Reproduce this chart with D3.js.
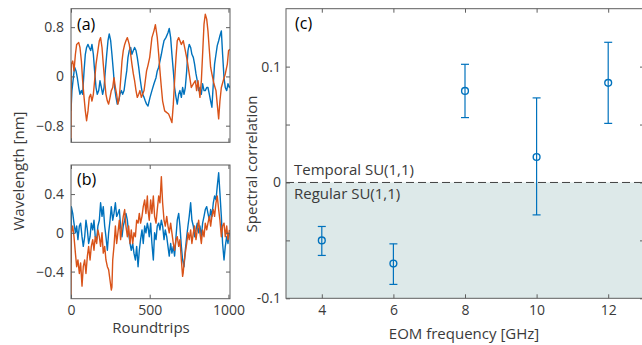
<!DOCTYPE html>
<html>
<head>
<meta charset="utf-8">
<script src="https://cdn.jsdelivr.net/npm/d3@7"></script>
<style>
  body { margin: 0; background: #fff; }
  svg text { font-family: "Open Sans", sans-serif; }
</style>
</head>
<body>
<script>
// panel (a): [roundtrip, wavelength nm]
const blueA = [[0,-0.56],[6,-0.23],[15,-0.02],[23,0.15],[32,0.09],[40,-0.02],[49,-0.18],[57,-0.29],[66,-0.23],[74,-0.29],[83,0.09],[91,0.36],[99,0.47],[108,0.52],[116,0.47],[125,0.42],[133,0.52],[142,0.36],[150,0.09],[159,-0.18],[167,-0.29],[176,-0.23],[184,-0.07],[193,-0.18],[201,-0.29],[210,-0.18],[218,0.09],[227,0.36],[235,0.58],[243,0.69],[252,0.58],[260,0.36],[269,0.09],[277,-0.18],[286,-0.34],[294,-0.45],[303,-0.40],[311,-0.29],[320,-0.23],[328,-0.29],[337,-0.23],[345,-0.07],[354,0.09],[362,0.31],[370,0.42],[379,0.47],[387,0.36],[396,0.42],[404,0.47],[413,0.42],[421,0.31],[430,0.15],[438,-0.02],[447,-0.18],[455,-0.29],[464,-0.34],[472,-0.40],[480,-0.45],[489,-0.48],[502,-0.34],[514,-0.23],[527,-0.12],[540,-0.02],[548,0.09],[557,0.15],[565,0.25],[574,0.36],[582,0.47],[591,0.58],[603,0.63],[616,0.71],[624,0.78],[633,0.63],[641,0.36],[650,0.09],[658,-0.18],[667,-0.34],[675,-0.45],[684,-0.29],[692,-0.23],[701,-0.34],[709,-0.18],[718,-0.29],[726,-0.18],[735,0.09],[743,0.42],[751,0.52],[760,0.47],[768,0.36],[777,0.31],[785,0.20],[794,0.04],[802,-0.07],[811,-0.23],[819,-0.18],[828,-0.29],[836,-0.12],[845,-0.23],[853,-0.23],[862,-0.18],[870,-0.18],[879,-0.29],[887,-0.40],[895,-0.50],[904,-0.12],[912,0.20],[921,0.36],[929,0.50],[938,0.58],[946,0.66],[955,0.74],[963,0.36],[972,-0.02],[980,-0.18],[989,-0.23],[997,-0.12],[1006,-0.18],[1010,-0.15]];
const orangeA = [[0,-1.03],[2,0.20],[11,0.25],[19,0.09],[28,0.36],[36,0.52],[49,0.55],[57,0.47],[66,0.25],[74,-0.07],[83,-0.34],[91,-0.56],[99,-0.72],[108,-0.56],[116,-0.34],[125,-0.29],[133,-0.40],[142,-0.29],[150,-0.07],[159,0.20],[171,0.42],[180,0.58],[188,0.63],[197,0.47],[205,0.20],[214,-0.07],[222,-0.29],[231,-0.40],[239,-0.45],[248,-0.34],[256,-0.23],[265,-0.18],[273,-0.02],[282,-0.18],[290,-0.29],[298,-0.45],[307,-0.34],[315,-0.07],[324,0.25],[332,0.42],[341,0.52],[349,0.58],[358,0.63],[370,0.52],[379,0.36],[387,0.20],[396,0.04],[404,-0.07],[413,-0.23],[421,-0.34],[430,-0.29],[438,-0.23],[447,-0.34],[455,-0.29],[464,-0.23],[472,-0.07],[480,0.09],[489,0.18],[500,0.31],[514,0.63],[527,0.74],[536,0.84],[548,0.63],[557,0.36],[565,0.09],[574,-0.18],[582,-0.40],[595,-0.56],[605,-0.58],[620,-0.61],[633,-0.69],[641,-0.75],[650,-0.45],[658,-0.07],[667,0.31],[675,0.58],[684,0.63],[692,0.58],[701,0.52],[713,0.58],[726,0.42],[739,0.25],[751,0.04],[764,-0.18],[777,-0.12],[790,-0.07],[798,-0.23],[807,-0.07],[819,-0.34],[828,-0.07],[838,0.47],[845,0.85],[853,1.01],[862,0.93],[870,0.74],[879,0.42],[887,0.15],[895,0.04],[908,-0.12],[921,-0.23],[929,-0.45],[938,-0.69],[946,-0.40],[955,-0.18],[967,-0.07],[980,0.04],[993,0.20],[1001,0.42],[1010,0.44]];

// panel (b)
const blueB = [[0,-0.31],[2,0.27],[11,0.20],[19,0.10],[28,0.0],[36,0.07],[44,-0.07],[53,0.07],[61,0.10],[70,-0.04],[78,-0.14],[87,-0.04],[95,0.13],[104,0.03],[112,-0.11],[121,-0.04],[129,0.10],[138,0.03],[146,0.13],[154,-0.04],[163,-0.07],[171,0.07],[180,0.13],[188,0.31],[197,0.17],[205,0.27],[214,0.07],[222,-0.04],[231,-0.18],[239,0.0],[248,0.13],[256,0.27],[265,0.13],[273,0.20],[282,0.31],[290,0.17],[298,0.20],[307,0.24],[315,0.07],[324,-0.04],[332,0.07],[341,0.13],[349,0.20],[358,0.13],[366,0.0],[375,-0.11],[383,-0.18],[392,-0.11],[400,-0.21],[409,-0.28],[417,-0.14],[426,-0.35],[434,-0.18],[442,-0.07],[451,0.03],[459,-0.11],[468,0.07],[476,0.0],[485,0.10],[489,0.07],[497,-0.04],[506,0.10],[514,-0.11],[523,-0.28],[531,0.0],[540,-0.07],[548,0.07],[557,0.10],[565,0.03],[574,0.13],[582,0.07],[591,-0.07],[599,0.03],[608,-0.04],[616,-0.14],[624,-0.24],[633,-0.11],[641,-0.21],[650,-0.14],[658,-0.24],[667,-0.04],[675,0.13],[684,0.20],[692,0.07],[701,-0.14],[709,-0.28],[718,-0.35],[726,-0.18],[735,-0.04],[743,0.07],[751,0.17],[760,0.31],[768,0.13],[777,0.07],[785,-0.04],[794,0.03],[802,0.10],[811,0.0],[819,0.07],[828,-0.04],[836,0.10],[845,0.17],[853,0.24],[862,0.27],[870,0.20],[879,0.13],[887,0.24],[895,0.17],[904,0.31],[912,0.38],[921,0.34],[929,0.48],[938,0.62],[946,0.41],[955,0.17],[963,-0.11],[972,-0.28],[980,-0.14],[989,-0.04],[997,-0.11],[1006,0.0]];
const orangeB = [[0,-0.66],[2,0.0],[11,0.07],[19,-0.04],[28,-0.21],[36,-0.35],[44,-0.28],[53,-0.42],[61,-0.31],[70,-0.55],[78,-0.35],[87,-0.28],[95,-0.42],[104,-0.24],[112,-0.14],[121,-0.28],[129,-0.14],[138,-0.07],[146,-0.18],[154,-0.04],[163,-0.11],[171,0.03],[180,-0.04],[188,-0.14],[197,0.0],[205,-0.21],[214,-0.14],[222,-0.28],[231,-0.35],[239,-0.38],[248,-0.49],[256,-0.59],[260,-0.56],[265,-0.28],[273,-0.14],[282,0.07],[290,-0.11],[298,0.0],[307,0.13],[315,-0.07],[324,0.07],[332,0.17],[341,0.24],[349,0.07],[358,-0.04],[366,0.07],[375,-0.11],[383,0.03],[392,-0.11],[400,0.0],[409,-0.04],[417,0.13],[426,0.10],[434,0.20],[442,0.10],[451,0.17],[459,0.27],[468,0.34],[476,0.20],[485,0.38],[489,0.24],[497,0.13],[506,0.34],[514,0.20],[523,0.38],[531,0.17],[540,0.10],[548,0.24],[557,0.38],[565,0.31],[574,0.58],[578,0.44],[582,0.31],[591,0.13],[599,0.07],[608,0.17],[616,0.07],[624,0.0],[633,0.10],[641,0.0],[650,-0.11],[658,-0.18],[667,-0.07],[675,-0.04],[684,-0.14],[692,-0.07],[701,-0.28],[709,-0.45],[713,-0.41],[718,-0.31],[726,-0.21],[735,-0.11],[743,0.0],[751,-0.07],[760,0.03],[768,-0.11],[777,0.0],[785,0.07],[794,-0.07],[802,0.03],[811,0.13],[819,0.0],[828,-0.11],[836,0.03],[845,-0.04],[853,0.10],[862,0.03],[870,0.10],[879,0.17],[887,0.07],[895,0.17],[904,0.24],[912,0.17],[921,0.31],[929,0.38],[938,0.24],[946,0.13],[955,-0.04],[963,0.07],[972,0.10],[980,-0.04],[989,0.07],[997,-0.07],[1006,0.03]];

// panel (c)
const eomFreq = [4, 6, 8, 10, 12];
const corrMean = [-0.050, -0.070, 0.079, 0.022, 0.086];
const corrLow = [-0.063, -0.088, 0.056, -0.028, 0.051];
const corrHigh = [-0.038, -0.053, 0.102, 0.073, 0.121];

const ticksA = [-0.8, 0, 0.8];
const ticksB = [-0.4, 0, 0.4];
const ticksRound = [0, 500, 1000];
const ticksC = [-0.1, -0.05, 0, 0.05, 0.1];
const labelsC = [-0.1, 0, 0.1];

const BLUE = '#0072bd', ORANGE = '#d95319';
const AX = '#5e5e5e', TXT = '#3a3a3a';

const svg = d3.select('body').append('svg')
  .attr('width', 642).attr('height', 345);

function frame(x, y, xTicks, yTicks, opts) {
  const [x0, x1] = x.range(), [y1, y0] = y.range();
  const g = svg.append('g');
  // inward ticks on all four sides
  g.append('g').attr('transform', `translate(${x0},0)`)
    .call(d3.axisLeft(y).tickValues(yTicks).tickSizeInner(-4).tickSizeOuter(0)
      .tickPadding(opts.yPad).tickFormat(opts.yFmt));
  g.append('g').attr('transform', `translate(${x1},0)`)
    .call(d3.axisRight(y).tickValues(yTicks).tickSizeInner(-4).tickSizeOuter(0).tickFormat(''));
  g.append('g').attr('transform', `translate(0,${y1})`)
    .call(d3.axisBottom(x).tickValues(xTicks).tickSizeInner(-4).tickSizeOuter(0)
      .tickPadding(opts.xPad).tickFormat(opts.xFmt));
  g.append('g').attr('transform', `translate(0,${y0})`)
    .call(d3.axisTop(x).tickValues(xTicks).tickSizeInner(-4).tickSizeOuter(0).tickFormat(''));
  g.selectAll('.domain').remove();
  g.selectAll('.tick line').attr('stroke', AX);
  g.selectAll('.tick text').attr('fill', TXT).style('font-size', '14px');
  g.append('rect')
    .attr('x', x0).attr('y', y0).attr('width', x1 - x0).attr('height', y1 - y0)
    .attr('fill', 'none').attr('stroke', AX).attr('stroke-width', 1);
  return g;
}

function series(x, y, data, color, clipId) {
  svg.append('path')
    .datum(data)
    .attr('clip-path', `url(#${clipId})`)
    .attr('fill', 'none')
    .attr('stroke', color)
    .attr('stroke-width', 1.4)
    .attr('stroke-linejoin', 'round')
    .attr('d', d3.line().x(d => x(d[0])).y(d => y(d[1])));
}

function clip(id, x, y) {
  svg.append('clipPath').attr('id', id).append('rect')
    .attr('x', x.range()[0]).attr('y', y.range()[1])
    .attr('width', x.range()[1] - x.range()[0])
    .attr('height', y.range()[0] - y.range()[1]);
}

// ----- panel (a)
const xA = d3.scaleLinear().domain([0, 1010]).range([71, 230]);
const yA = d3.scaleLinear().domain([-1.07, 1.1]).range([142.3, 8.7]);
clip('clipA', xA, yA);
series(xA, yA, blueA, BLUE, 'clipA');
series(xA, yA, orangeA, ORANGE, 'clipA');
frame(xA, yA, ticksRound, ticksA, { yPad: 7, xPad: 6, yFmt: d3.format(''), xFmt: () => '' });

// ----- panel (b)
const xB = d3.scaleLinear().domain([0, 1010]).range([71, 230]);
const yB = d3.scaleLinear().domain([-0.68, 0.70]).range([298.7, 165]);
clip('clipB', xB, yB);
series(xB, yB, blueB, BLUE, 'clipB');
series(xB, yB, orangeB, ORANGE, 'clipB');
frame(xB, yB, ticksRound, ticksB, { yPad: 7, xPad: 6, yFmt: d3.format(''), xFmt: d3.format('') });

// ----- panel (c)
const xC = d3.scaleLinear().domain([3, 13]).range([286, 644]);
const yC = d3.scaleLinear().domain([-0.1, 0.15]).range([298.3, 8.7]);

svg.append('rect')
  .attr('x', xC(3)).attr('y', yC(0))
  .attr('width', xC(13) - xC(3)).attr('height', yC(-0.1) - yC(0))
  .attr('fill', '#dde9e9');
svg.append('line')
  .attr('x1', xC(3)).attr('x2', xC(13))
  .attr('y1', yC(0)).attr('y2', yC(0))
  .attr('stroke', '#404040').attr('stroke-width', 1)
  .attr('stroke-dasharray', '8,4');

frame(xC, yC, [4, 6, 8, 10, 12], ticksC, {
  yPad: 5, xPad: 7,
  yFmt: d => labelsC.includes(d) ? String(d) : '',
  xFmt: d3.format('')
});

const pts = eomFreq.map((f, i) => ({ f, m: corrMean[i], lo: corrLow[i], hi: corrHigh[i] }));
const eb = svg.append('g').attr('stroke', BLUE).attr('fill', 'none').attr('stroke-width', 1.2);
eb.selectAll('line.v').data(pts).join('line')
  .attr('x1', d => xC(d.f)).attr('x2', d => xC(d.f))
  .attr('y1', d => yC(d.lo)).attr('y2', d => yC(d.hi));
eb.selectAll('line.t').data(pts).join('line')
  .attr('x1', d => xC(d.f) - 4).attr('x2', d => xC(d.f) + 4)
  .attr('y1', d => yC(d.hi)).attr('y2', d => yC(d.hi));
eb.selectAll('line.b').data(pts).join('line')
  .attr('x1', d => xC(d.f) - 4).attr('x2', d => xC(d.f) + 4)
  .attr('y1', d => yC(d.lo)).attr('y2', d => yC(d.lo));
eb.selectAll('circle').data(pts).join('circle')
  .attr('cx', d => xC(d.f)).attr('cy', d => yC(d.m)).attr('r', 3.4)
  .attr('stroke-width', 1.4);

// ----- texts
const txt = (x, y, s, size, anchor, color) => svg.append('text')
  .attr('x', x).attr('y', y).attr('text-anchor', anchor || 'start')
  .attr('fill', color || TXT).style('font-size', size + 'px').text(s);

txt(77, 30, '(a)', 16, 'start', '#000');
txt(77, 185, '(b)', 16, 'start', '#000');
txt(295, 29, '(c)', 16, 'start', '#000');
txt(294, 175, 'Temporal SU(1,1)', 15);
txt(294, 199, 'Regular SU(1,1)', 15);
txt(151, 333, 'Roundtrips', 15, 'middle');
txt(464, 339, 'EOM frequency [GHz]', 15, 'middle');

svg.append('text')
  .attr('transform', 'translate(24,171) rotate(-90)')
  .attr('text-anchor', 'middle').attr('fill', TXT).style('font-size', '15px')
  .text('Wavelength [nm]');
svg.append('text')
  .attr('transform', 'translate(257,164) rotate(-90)')
  .attr('text-anchor', 'middle').attr('fill', TXT).style('font-size', '15px')
  .text('Spectral correlation');
</script>
</body>
</html>
